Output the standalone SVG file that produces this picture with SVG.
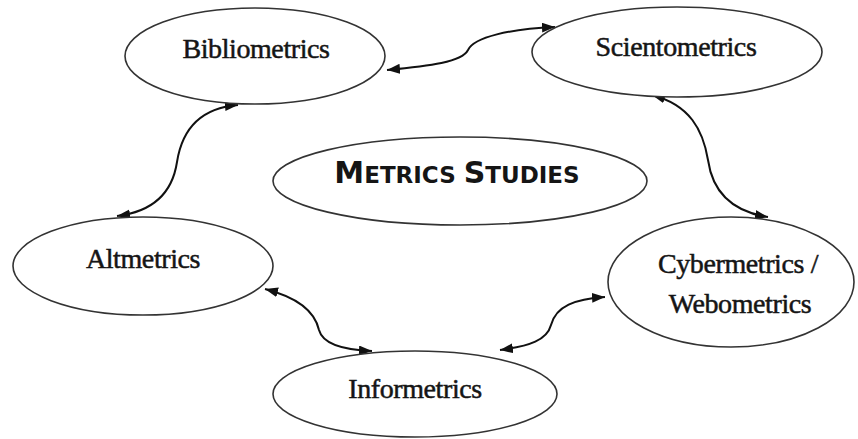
<svg xmlns="http://www.w3.org/2000/svg" width="858" height="439" viewBox="0 0 858 439">
<style>
.node ellipse{fill:#fff;stroke:#333;stroke-width:1.6}
.lbl{font-family:"Liberation Serif","Times New Roman",serif;font-size:28px;letter-spacing:-0.4px;fill:#151515;stroke:#151515;stroke-width:0.5;text-anchor:middle}
.title{font-family:"DejaVu Sans",sans-serif;font-weight:bold;fill:#151515;text-anchor:middle}
.conn path{fill:none;stroke:#111;stroke-width:2;marker-start:url(#ah);marker-end:url(#ah)}
</style>
<defs>
<marker id="ah" markerUnits="userSpaceOnUse" markerWidth="14" markerHeight="11" refX="13" refY="5" orient="auto-start-reverse">
<path d="M0,0 L13,5 L0,10 z" fill="#111"/>
</marker>
</defs>
<rect width="858" height="439" fill="#fff"/>
<g class="conn" id="connectors">
<path d="M387 70 C430 66,462 62,468 50 C474 37,510 29,555 27"/>
<path d="M238 105 C200 108,182 130,177 162 C172 195,150 212,117 216"/>
<path d="M652 95 C690 105,703 130,708 160 C713 195,735 212,768 217"/>
<path d="M265 289 C300 298,315 312,319 330 C323 345,345 350,372 351"/>
<path d="M500 350 C530 346,547 340,551 325 C556 306,575 299,605 297"/>
</g>
<g class="node" id="bibliometrics">
<ellipse cx="255" cy="56" rx="130" ry="48"/>
<text class="lbl" x="256" y="58">Bibliometrics</text>
</g>
<g class="node" id="scientometrics">
<ellipse cx="677" cy="52" rx="145" ry="45"/>
<text class="lbl" x="676" y="56">Scientometrics</text>
</g>
<g class="node" id="metrics-studies">
<ellipse cx="460" cy="181" rx="187" ry="44"/>
<text class="title" x="457" y="183"><tspan font-size="30">M</tspan><tspan font-size="23">ETRICS </tspan><tspan font-size="30">S</tspan><tspan font-size="23">TUDIES</tspan></text>
</g>
<g class="node" id="altmetrics">
<ellipse cx="143" cy="266" rx="130" ry="49"/>
<text class="lbl" x="143" y="268">Altmetrics</text>
</g>
<g class="node" id="cybermetrics">
<ellipse cx="731" cy="282" rx="123" ry="65"/>
<text class="lbl" x="738" y="273">Cybermetrics /</text>
<text class="lbl" x="740" y="313">Webometrics</text>
</g>
<g class="node" id="informetrics">
<ellipse cx="415" cy="394" rx="142" ry="43"/>
<text class="lbl" x="415" y="398">Informetrics</text>
</g>
</svg>
